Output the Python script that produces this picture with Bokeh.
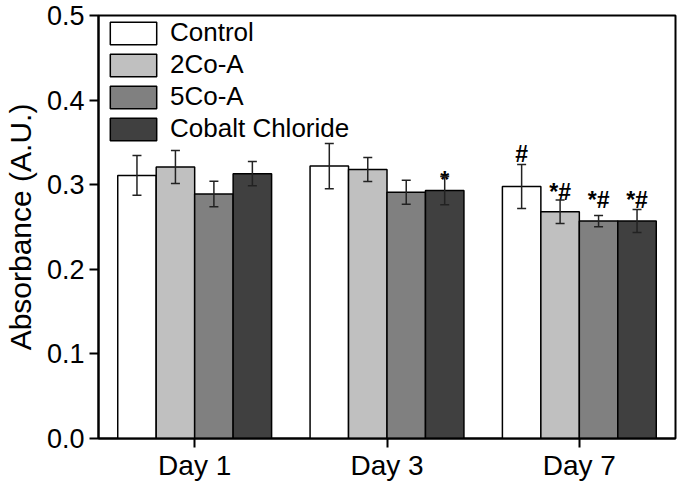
from bokeh.plotting import figure
from bokeh.models import (ColumnDataSource, FactorRange, Range1d, FixedTicker,
                          NumeralTickFormatter, Whisker, TeeHead, Legend, LegendItem)
from bokeh.transform import dodge
from bokeh.core.properties import value
from bokeh.embed import file_html
from bokeh.resources import INLINE

# ---- data ----
days = ["Day 1", "Day 3", "Day 7"]
groups = ["Control", "2Co-A", "5Co-A", "Cobalt Chloride"]
control = [0.311, 0.322, 0.298]
co2a = [0.321, 0.318, 0.268]
co5a = [0.289, 0.291, 0.257]
cocl = [0.313, 0.293, 0.257]
control_err = [0.0235, 0.0267, 0.026]
co2a_err = [0.0195, 0.0142, 0.014]
co5a_err = [0.015, 0.0142, 0.0066]
cocl_err = [0.0143, 0.0167, 0.0136]

ann_day = ["Day 3", "Day 7", "Day 7", "Day 7", "Day 7"]
ann_group = ["Cobalt Chloride", "Control", "2Co-A", "5Co-A", "Cobalt Chloride"]
ann_text = ["*", "#", "*#", "*#", "*#"]
ann_y = [0.306, 0.336, 0.291, 0.282, 0.282]

y_ticks = [0.0, 0.1, 0.2, 0.3, 0.4, 0.5]

# ---- styling ----
FONT = "Liberation Sans"
colors = ["#ffffff", "#c0c0c0", "#808080", "#404040"]
offsets = [-0.3, -0.1, 0.1, 0.3]
FRAME_H = 425

p = figure(width=677, height=483, output_backend="svg", toolbar_location=None,
           x_range=FactorRange(*days, range_padding=0), y_range=Range1d(0, 0.5),
           min_border_left=96, min_border_right=2, min_border_top=15,
           min_border_bottom=483 - 15 - FRAME_H)

series = [control, co2a, co5a, cocl]
errs = [control_err, co2a_err, co5a_err, cocl_err]
items = []
for g, vals, err, col, off in zip(groups, series, errs, colors, offsets):
    src = ColumnDataSource(dict(day=days, top=vals,
                                upper=[v + e for v, e in zip(vals, err)],
                                lower=[v - e for v, e in zip(vals, err)]))
    r = p.vbar(x=dodge("day", off, range=p.x_range), top="top", width=0.2, source=src,
               fill_color=col, line_color="black", line_width=1.5)
    items.append(LegendItem(label=g, renderers=[r]))
    w = Whisker(base=dodge("day", off, range=p.x_range), upper="upper", lower="lower",
                source=src, line_color="#222222", line_width=1.5, level="overlay",
                upper_head=TeeHead(size=9, line_color="#222222", line_width=1.5),
                lower_head=TeeHead(size=9, line_color="#222222", line_width=1.5))
    p.add_layout(w)

off_map = dict(zip(groups, offsets))
for g in groups:
    idx = [i for i, gg in enumerate(ann_group) if gg == g]
    if not idx:
        continue
    s = ColumnDataSource(dict(day=[ann_day[i] for i in idx], y=[ann_y[i] for i in idx],
                              text=[ann_text[i] for i in idx]))
    p.text(x=dodge("day", off_map[g], range=p.x_range), y="y", text="text", source=s,
           text_font=value(FONT), text_font_size="23px", text_font_style="bold",
           text_align="center", text_baseline="alphabetic", text_color="black")

legend = Legend(items=items, location=(6, FRAME_H - 4 - 127), margin=0, padding=0,
                spacing=1, glyph_width=58, glyph_height=28, label_standoff=8,
                label_height=28,
                label_text_font=FONT, label_text_font_size="26px",
                label_text_color="black", border_line_color=None,
                background_fill_alpha=0)
p.add_layout(legend)

p.xgrid.visible = False
p.ygrid.visible = False
p.outline_line_color = "black"
p.outline_line_width = 2

p.yaxis.ticker = FixedTicker(ticks=y_ticks)
p.yaxis.formatter = NumeralTickFormatter(format="0.0")
p.yaxis.axis_label = "Absorbance (A.U.)"
p.yaxis.axis_label_text_font = FONT
p.yaxis.axis_label_text_font_size = "30px"
p.yaxis.axis_label_text_font_style = "normal"
p.yaxis.axis_label_standoff = 7
p.yaxis.major_label_text_font = FONT
p.yaxis.major_label_text_font_size = "27px"
p.yaxis.major_label_standoff = 5

p.xaxis.major_label_text_font = FONT
p.xaxis.major_label_text_font_size = "28px"
p.xaxis.major_label_standoff = 2
p.xaxis.major_label_orientation = "horizontal"

for ax in (p.xaxis[0], p.yaxis[0]):
    ax.axis_line_width = 2
    ax.axis_line_color = "black"
    ax.major_tick_line_width = 2
    ax.major_tick_line_color = "black"
    ax.major_tick_in = 0
    ax.major_tick_out = 9
    ax.minor_tick_line_color = None
    ax.major_label_text_color = "black"
    ax.axis_label_text_color = "black"

open("out.html", "w").write(file_html(p, INLINE))
